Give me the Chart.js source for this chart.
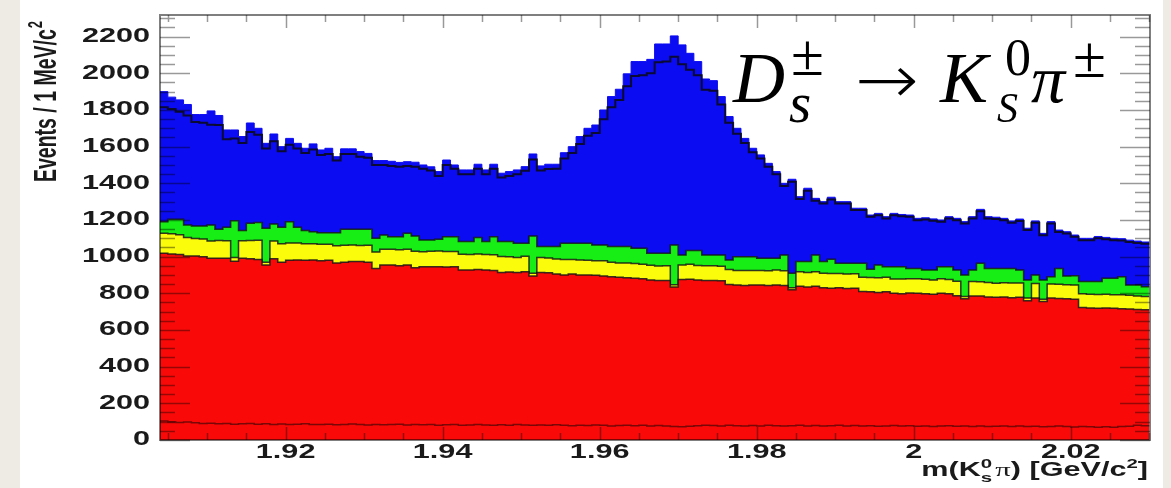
<!DOCTYPE html>
<html>
<head>
<meta charset="utf-8">
<script src="https://cdn.jsdelivr.net/npm/chart.js@4"></script>
<style>
  html, body { margin: 0; padding: 0; background: #eeebe5; }
  #wrap { position: relative; width: 1171px; height: 488px; overflow: hidden; }
  #plot { position: absolute; left: 0; top: 0; filter: blur(0.7px); }
  .tex { position: absolute; font-family: "Liberation Serif", "Times New Roman", serif; color: #000; line-height: 1; white-space: nowrap; }
  .it { font-style: italic; }
  .arrow { font-family: "DejaVu Sans", sans-serif; font-weight: 200; transform: scaleX(1.12); transform-origin: left center; }
</style>
</head>
<body>
<div id="wrap">
  <canvas id="plot" width="1171" height="488"></canvas>
  <!-- decay label, each piece placed on its own baseline -->
  <span class="tex it" style="font-size:72px; left:733px; top:41.7px;">D</span>
  <span class="tex" style="font-size:60px; left:791px; top:24.8px;">±</span>
  <span class="tex it" style="font-size:57px; left:789px; top:74.3px;">s</span>
  <span class="tex arrow" style="font-size:68px; left:855px; top:46px;">→</span>
  <span class="tex it" style="font-size:72px; left:940px; top:41.7px;">K</span>
  <span class="tex" style="font-size:52px; left:1005px; top:31.5px;">0</span>
  <span class="tex it" style="font-size:42px; left:997px; top:86.8px;">S</span>
  <span class="tex it" style="font-size:68px; left:1031px; top:45px;">π</span>
  <span class="tex" style="font-size:60px; left:1073px; top:26.8px;">±</span>
</div>
<script>
// 1 MeV bins starting at 1.904 GeV/c^2
const binLow = 1.904;
const binWidth = 0.001;

// stacked background components (events per bin)
const red = [1018,1015,1012,1004,1004,1000,991,991,991,975,
  991,988,985,955,988,970,980,982,980,982,
  978,980,965,970,973,973,970,936,955,955,
  950,955,940,945,945,945,943,945,927,927,
  930,927,925,914,916,914,918,895,914,912,
  905,900,905,900,900,898,895,890,888,885,
  882,880,873,870,870,835,875,877,872,870,
  870,868,848,845,843,845,846,843,845,843,
  820,838,835,838,830,828,830,826,828,810,
  808,805,808,800,798,802,800,798,795,800,
  797,787,770,785,785,780,778,780,776,778,
  760,775,755,775,772,770,768,722,720,718,
  720,718,716,715,712,710];

const yellow = [109,110,108,100,95,96,95,97,96,20,
  96,100,105,15,98,100,95,92,90,88,
  90,88,95,92,90,88,92,90,85,86,
  88,86,90,82,84,86,85,83,86,85,
  84,85,86,87,84,82,84,15,82,80,
  82,84,80,82,81,80,82,80,78,80,
  80,78,80,79,81,12,80,82,80,81,
  80,79,82,80,81,80,79,80,82,80,
  10,80,78,80,79,80,78,80,79,78,
  78,80,79,78,80,78,80,79,78,80,
  78,79,12,80,78,79,77,78,80,78,
  15,78,12,76,78,77,78,76,75,76,
  75,74,76,75,74,73];

const green = [64,79,84,69,68,71,87,61,73,201,
  55,94,96,185,92,90,115,86,72,66,
  63,63,71,87,86,88,87,74,78,68,
  71,86,82,64,62,64,81,81,69,70,
  91,70,98,81,82,77,71,203,59,63,
  68,89,88,91,92,86,87,85,89,90,
  84,88,65,69,67,217,54,74,81,58,
  59,62,52,75,76,75,66,68,64,86,
  80,55,60,91,64,78,56,58,57,76,
  45,70,58,67,67,56,56,50,54,65,
  70,61,118,62,101,77,81,78,80,71,
  98,47,106,40,86,48,50,66,69,70,
  87,90,99,55,59,53];

// full stack height, blue fills from the green level up to here
const total = [1900,1870,1855,1830,1775,1775,1795,1770,1691,1691,
  1655,1729,1700,1618,1669,1600,1645,1618,1591,1615,
  1582,1591,1545,1588,1588,1573,1563,1524,1524,1520,
  1514,1518,1515,1500,1490,1464,1527,1500,1473,1473,
  1504,1473,1504,1455,1464,1473,1491,1560,1495,1504,
  1504,1567,1600,1655,1700,1718,1800,1873,1913,1997,
  2064,2064,2076,2160,2160,2204,2155,2109,2064,1969,
  1960,1873,1764,1700,1645,1591,1555,1509,1464,1400,
  1422,1327,1373,1318,1300,1324,1300,1300,1264,1264,
  1227,1236,1218,1236,1230,1227,1209,1212,1206,1200,
  1218,1209,1191,1218,1258,1218,1215,1209,1195,1205,
  1155,1195,1127,1191,1145,1136,1118,1100,1100,1110,
  1105,1100,1098,1090,1085,1080];

// black outline histogram
const fitSum = [1815,1805,1790,1770,1735,1730,1720,1718,1640,1645,
  1620,1680,1665,1590,1630,1575,1610,1590,1565,1585,
  1555,1560,1525,1560,1560,1545,1540,1500,1500,1495,
  1490,1495,1490,1480,1470,1440,1500,1480,1450,1450,
  1480,1450,1480,1432,1440,1450,1468,1530,1470,1478,
  1480,1535,1565,1615,1660,1675,1750,1815,1855,1930,
  1985,1990,2000,2060,2065,2090,2050,2020,1990,1910,
  1905,1830,1730,1670,1620,1570,1535,1490,1450,1385,
  1408,1315,1360,1305,1290,1312,1290,1290,1255,1255,
  1218,1226,1208,1226,1220,1217,1199,1202,1196,1190,
  1208,1199,1181,1208,1248,1208,1205,1199,1185,1195,
  1145,1185,1117,1181,1135,1126,1108,1090,1090,1100,
  1095,1090,1088,1080,1075,1070];

// dark red line near the bottom
const misId = [104,100,96,98,94,90,92,88,90,86,
  88,90,86,88,85,87,84,86,88,85,
  84,86,83,85,87,84,82,85,83,84,
  86,82,84,83,85,81,83,84,80,82,
  84,82,80,83,81,84,82,80,82,81,
  83,80,78,81,79,82,80,77,79,81,
  78,80,76,79,77,74,72,75,78,80,
  79,77,80,78,76,79,77,80,78,76,
  78,80,77,79,76,78,80,77,79,76,
  78,75,77,79,76,78,75,77,74,76,
  78,75,77,74,76,73,75,77,74,76,
  73,75,72,74,76,73,71,74,72,70,
  72,70,73,75,80,78];

const yTicks = [0, 200, 400, 600, 800, 1000, 1200, 1400, 1600, 1800, 2000, 2200];
const xTicks = [1.92, 1.94, 1.96, 1.98, 2.00, 2.02];
const xTickLabels = ['1.92', '1.94', '1.96', '1.98', '2', '2.02'];

const X_MIN = 1.904, X_MAX = 2.0301, Y_MAX = 2318;
const STRETCH = 1.57;   // the axis lettering is wide
const LABEL_FONT = '"Liberation Sans", Arial, sans-serif';

// bin contents -> step points at the lower bin edges (+ closing edge)
function steps(vals) {
  const pts = vals.map((v, i) => ({ x: binLow + i * binWidth, y: v }));
  pts.push({ x: binLow + vals.length * binWidth, y: vals[vals.length - 1] });
  return pts;
}

const redTop = red.slice();
const yellowTop = red.map((v, i) => v + yellow[i]);
const greenTop = yellowTop.map((v, i) => v + green[i]);

// 'before' holds each value across its own bin, up to the next edge
function histSet(label, vals, color, fill) {
  return {
    label: label,
    data: steps(vals),
    stepped: 'before',
    fill: fill,
    backgroundColor: color,
    borderColor: 'rgba(20,20,20,0.85)',
    borderWidth: 1.5,
    pointRadius: 0,
    order: 1
  };
}

const plotBg = {
  id: 'plotBg',
  beforeDraw(chart) {
    const { ctx, width, height } = chart;
    ctx.save();
    ctx.fillStyle = '#eeebe5';
    ctx.fillRect(0, 0, width, height);
    ctx.fillStyle = '#ffffff';
    ctx.fillRect(20, 0, 1143, height);
    ctx.restore();
  }
};

// inward ticks on all four sides plus the frame
const frameTicks = {
  id: 'frameTicks',
  afterDatasetsDraw(chart) {
    const { ctx, chartArea: a, scales } = chart;
    const xs = scales.x, ys = scales.y;
    ctx.save();
    ctx.strokeStyle = 'rgba(0,0,0,0.4)';
    ctx.lineWidth = 1.5;
    ctx.beginPath();
    for (let v = 0; v <= Y_MAX; v += 50) {
      const y = Math.round(ys.getPixelForValue(v)) + 0.5;
      const len = v % 200 === 0 ? 30 : 15;
      ctx.moveTo(a.left, y); ctx.lineTo(a.left + len, y);
      ctx.moveTo(a.right, y); ctx.lineTo(a.right - len, y);
    }
    for (let m = 1905; m <= 2030; m += 5) {
      const x = Math.round(xs.getPixelForValue(m / 1000)) + 0.5;
      const len = m % 20 === 0 ? 13 : 7;
      ctx.moveTo(x, a.bottom); ctx.lineTo(x, a.bottom - len);
      ctx.moveTo(x, a.top); ctx.lineTo(x, a.top + len);
    }
    ctx.stroke();
    ctx.strokeStyle = 'rgba(0,0,0,0.5)';
    ctx.lineWidth = 2;
    ctx.strokeRect(a.left, a.top, a.right - a.left, a.bottom - a.top);
    ctx.restore();
  }
};

function wideText(ctx, text, x, y, align, size) {
  ctx.save();
  ctx.translate(x, y);
  ctx.scale(STRETCH, 1);
  ctx.font = 'bold ' + size + 'px ' + LABEL_FONT;
  ctx.textAlign = align;
  ctx.textBaseline = 'middle';
  ctx.fillText(text, 0, 0);
  ctx.restore();
}

const axisLabels = {
  id: 'axisLabels',
  afterDraw(chart) {
    const { ctx, scales } = chart;
    const xs = scales.x, ys = scales.y;
    ctx.save();
    ctx.fillStyle = '#1a1a1a';
    yTicks.forEach(v => wideText(ctx, String(v), 150, ys.getPixelForValue(v), 'right', 19.5));
    xTicks.forEach((v, i) => wideText(ctx, xTickLabels[i], xs.getPixelForValue(v), 453, 'center', 19.5));

    // y title, reads bottom to top
    ctx.save();
    ctx.translate(56, 182);
    ctx.scale(STRETCH, 1);
    ctx.rotate(-Math.PI / 2);
    ctx.font = 'bold 19.5px ' + LABEL_FONT;
    ctx.textAlign = 'left';
    ctx.textBaseline = 'alphabetic';
    const yt = 'Events / 1 MeV/c';
    ctx.fillText(yt, 0, 0);
    const yw = ctx.measureText(yt).width;
    ctx.font = 'bold 13px ' + LABEL_FONT;
    ctx.fillText('2', yw + 1, -9);
    ctx.restore();

    // x title m(K0s pi) [GeV/c2], right aligned to the frame
    const big = 'bold 19.5px ' + LABEL_FONT;
    const small = 'bold 13px ' + LABEL_FONT;
    const greek = '19.5px "Liberation Serif", serif';
    const parts = [
      { t: 'm(K', f: big, dy: 0 },
      { t: '0', f: small, dy: -8, stackWith: 's' },
      { t: 'π', f: greek, dy: 0 },
      { t: ') [GeV/c', f: big, dy: 0 },
      { t: '2', f: small, dy: -8 },
      { t: ']', f: big, dy: 0 }
    ];
    let w = 0;
    parts.forEach(p => { ctx.font = p.f; p.w = ctx.measureText(p.t).width + (p.stackWith ? 2 : 0); w += p.w; });
    ctx.save();
    ctx.translate(1148 - w * STRETCH, 476);
    ctx.scale(STRETCH, 1);
    ctx.textAlign = 'left';
    ctx.textBaseline = 'alphabetic';
    let cx = 0;
    parts.forEach(p => {
      ctx.font = p.f;
      ctx.fillText(p.t, cx, p.dy);
      if (p.stackWith) ctx.fillText(p.stackWith, cx, 6);
      cx += p.w;
    });
    ctx.restore();
    ctx.restore();
  }
};

new Chart(document.getElementById('plot'), {
  type: 'line',
  data: {
    datasets: [
      histSet('red', redTop, '#f90a08', 'origin'),
      histSet('yellow', yellowTop, '#fbfb0c', '-1'),
      histSet('green', greenTop, '#16ee16', '-1'),
      {
        label: 'blue',
        data: steps(total),
        stepped: 'before',
        fill: '-1',
        backgroundColor: '#0c0cf2',
        borderColor: '#0c0cf2',
        borderWidth: 1,
        pointRadius: 0,
        order: 1
      },
      {
        label: 'fit',
        data: steps(fitSum),
        stepped: 'before',
        fill: false,
        borderColor: 'rgba(10,10,30,0.9)',
        borderWidth: 2,
        pointRadius: 0,
        order: 0
      },
      {
        label: 'misId',
        data: steps(misId),
        stepped: 'before',
        fill: false,
        borderColor: '#7a0606',
        borderWidth: 1.5,
        pointRadius: 0,
        order: 0
      }
    ]
  },
  options: {
    responsive: false,
    animation: false,
    layout: { padding: { left: 160, top: 15, right: 21, bottom: 48 } },
    plugins: { legend: { display: false }, tooltip: { enabled: false } },
    scales: {
      x: { type: 'linear', min: X_MIN, max: X_MAX, display: false },
      y: { type: 'linear', min: 0, max: Y_MAX, display: false }
    }
  },
  plugins: [plotBg, frameTicks, axisLabels]
});
</script>
</body>
</html>
